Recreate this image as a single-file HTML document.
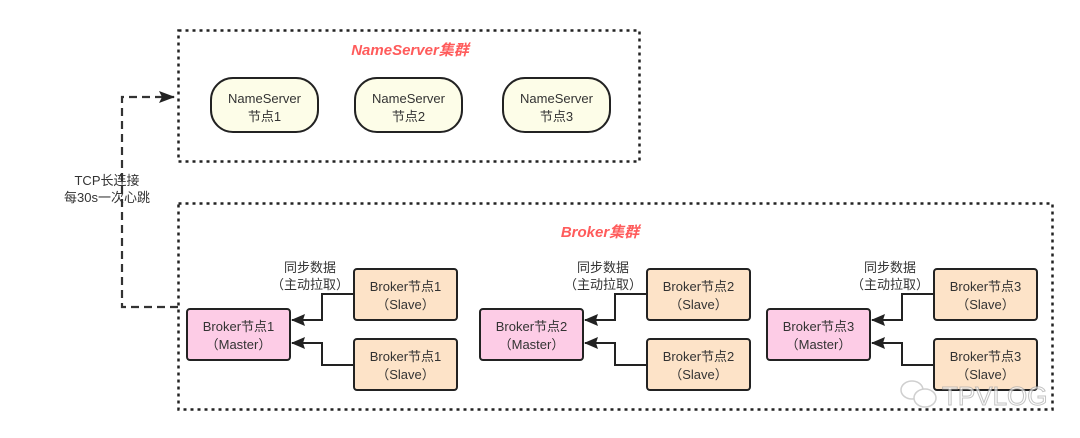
<!DOCTYPE html>
<html><head><meta charset="utf-8"><style>
html,body{margin:0;padding:0;background:#fff;}
svg{display:block;}
text{font-family:"Liberation Sans","Noto Sans CJK SC",sans-serif;fill:#333;}
</style></head><body>
<svg width="1080" height="438" viewBox="0 0 1080 438" xmlns="http://www.w3.org/2000/svg">
<defs>
<marker id="ah" markerWidth="14" markerHeight="12" refX="13" refY="6" orient="auto" markerUnits="userSpaceOnUse">
<path d="M0,0 L14,6 L0,12 L2,6 Z" fill="#222"/></marker>
<marker id="ah2" markerWidth="16" markerHeight="12" refX="15" refY="6" orient="auto" markerUnits="userSpaceOnUse">
<path d="M0,0 L16,6 L0,12 L3,6 Z" fill="#222"/></marker>
</defs>
<rect x="178.5" y="30.5" width="461" height="131" fill="none" stroke="#222" stroke-width="2.5" stroke-dasharray="3,4"/>
<rect x="178.5" y="203.5" width="874" height="206" fill="none" stroke="#222" stroke-width="2.5" stroke-dasharray="3,4"/>
<text x="410" y="55" text-anchor="middle" font-size="15" font-weight="bold" font-style="italic" style="fill:#ff5b5b">NameServer集群</text>
<text x="600" y="237" text-anchor="middle" font-size="15" font-weight="bold" font-style="italic" style="fill:#ff5b5b">Broker集群</text>
<g font-size="13" text-anchor="middle">
<rect x="211" y="78" width="107" height="54" rx="22" fill="#fdfde8" stroke="#222" stroke-width="2"/>
<text x="264.5" y="103">NameServer</text><text x="264.5" y="121">节点1</text>
<rect x="355" y="78" width="107" height="54" rx="22" fill="#fdfde8" stroke="#222" stroke-width="2"/>
<text x="408.5" y="103">NameServer</text><text x="408.5" y="121">节点2</text>
<rect x="503" y="78" width="107" height="54" rx="22" fill="#fdfde8" stroke="#222" stroke-width="2"/>
<text x="556.5" y="103">NameServer</text><text x="556.5" y="121">节点3</text>
</g>
<path d="M178,307 L122,307 L122,97 L174,97" fill="none" stroke="#333" stroke-width="2.2" stroke-dasharray="8,5" marker-end="url(#ah2)"/>
<text x="107" y="185" text-anchor="middle" font-size="13">TCP长连接</text>
<text x="107" y="202" text-anchor="middle" font-size="13">每30s一次心跳</text>
<g font-size="13" text-anchor="middle">
<g>
<rect x="187" y="309" width="103" height="51" rx="3" fill="#fdcce6" stroke="#222" stroke-width="2"/>
<text x="238.5" y="331">Broker节点1</text><text x="238.5" y="349">（Master）</text>
<rect x="354" y="269" width="103" height="51" rx="3" fill="#fde3c8" stroke="#222" stroke-width="2"/>
<text x="405.5" y="291">Broker节点1</text><text x="405.5" y="309">（Slave）</text>
<rect x="354" y="339" width="103" height="51" rx="3" fill="#fde3c8" stroke="#222" stroke-width="2"/>
<text x="405.5" y="361">Broker节点1</text><text x="405.5" y="379">（Slave）</text>
<path d="M354,294 L322,294 L322,320 L292,320" fill="none" stroke="#222" stroke-width="2" marker-end="url(#ah)"/>
<path d="M354,365 L322,365 L322,343 L292,343" fill="none" stroke="#222" stroke-width="2" marker-end="url(#ah)"/>
<text x="310" y="272">同步数据</text><text x="310" y="289">（主动拉取）</text>
</g>
<g transform="translate(293,0)">
<rect x="187" y="309" width="103" height="51" rx="3" fill="#fdcce6" stroke="#222" stroke-width="2"/>
<text x="238.5" y="331">Broker节点2</text><text x="238.5" y="349">（Master）</text>
<rect x="354" y="269" width="103" height="51" rx="3" fill="#fde3c8" stroke="#222" stroke-width="2"/>
<text x="405.5" y="291">Broker节点2</text><text x="405.5" y="309">（Slave）</text>
<rect x="354" y="339" width="103" height="51" rx="3" fill="#fde3c8" stroke="#222" stroke-width="2"/>
<text x="405.5" y="361">Broker节点2</text><text x="405.5" y="379">（Slave）</text>
<path d="M354,294 L322,294 L322,320 L292,320" fill="none" stroke="#222" stroke-width="2" marker-end="url(#ah)"/>
<path d="M354,365 L322,365 L322,343 L292,343" fill="none" stroke="#222" stroke-width="2" marker-end="url(#ah)"/>
<text x="310" y="272">同步数据</text><text x="310" y="289">（主动拉取）</text>
</g>
<g transform="translate(580,0)">
<rect x="187" y="309" width="103" height="51" rx="3" fill="#fdcce6" stroke="#222" stroke-width="2"/>
<text x="238.5" y="331">Broker节点3</text><text x="238.5" y="349">（Master）</text>
<rect x="354" y="269" width="103" height="51" rx="3" fill="#fde3c8" stroke="#222" stroke-width="2"/>
<text x="405.5" y="291">Broker节点3</text><text x="405.5" y="309">（Slave）</text>
<rect x="354" y="339" width="103" height="51" rx="3" fill="#fde3c8" stroke="#222" stroke-width="2"/>
<text x="405.5" y="361">Broker节点3</text><text x="405.5" y="379">（Slave）</text>
<path d="M354,294 L322,294 L322,320 L292,320" fill="none" stroke="#222" stroke-width="2" marker-end="url(#ah)"/>
<path d="M354,365 L322,365 L322,343 L292,343" fill="none" stroke="#222" stroke-width="2" marker-end="url(#ah)"/>
<text x="310" y="272">同步数据</text><text x="310" y="289">（主动拉取）</text>
</g>
</g>
<g opacity="0.7">
<ellipse cx="912" cy="390" rx="11" ry="9" fill="#fff" stroke="#bbb" stroke-width="1.5"/>
<ellipse cx="925" cy="398" rx="11" ry="9" fill="#fff" stroke="#bbb" stroke-width="1.5"/>
<text x="942" y="405" font-size="26" style="fill:#fff;stroke:#aaa;stroke-width:1">TPVLOG</text>
</g>
</svg>
</body></html>
